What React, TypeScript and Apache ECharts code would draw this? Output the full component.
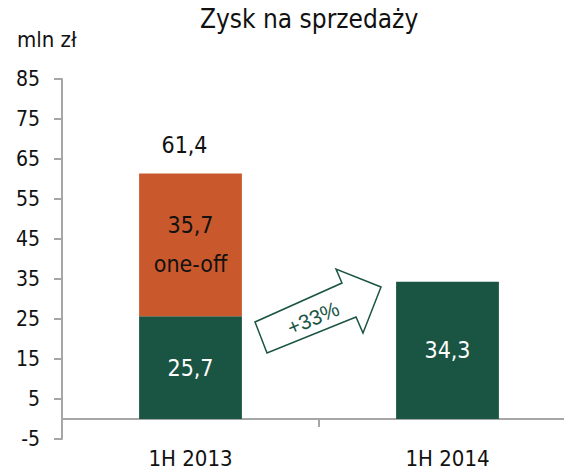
import React, { useEffect, useRef } from "react";
import * as echarts from "echarts";

const categories = ["1H 2013", "1H 2014"];
const baseValues = [25.7, 34.3];
const oneOffValues: (number | null)[] = [35.7, null];
const totalValues: (number | null)[] = [61.4, null];
const axisMin = -5;
const axisMax = 85;
const axisStep = 10;
const titleText = "Zysk na sprzedaży";
const unitText = "mln zł";
const growthText = "+33%";

const FONT = "'Liberation Sans Narrow', 'DejaVu Sans Condensed', 'Liberation Sans', sans-serif";
const GREEN = "#1a5443";
const ORANGE = "#c9592c";
const AXIS = "#a6a6a6";

const fmt = (v: number) => String(v).replace(".", ",");

export default function App() {
  const ref = useRef<HTMLDivElement>(null);
  useEffect(() => {
    document.body.style.margin = "0";
    const chart = echarts.init(ref.current!, null, { renderer: "svg" });
    chart.setOption({
      animation: false,
      title: [
        {
          text: titleText,
          left: 200,
          top: 6,
          padding: 0,
          textStyle: { fontFamily: FONT, fontSize: 26, fontWeight: "normal", color: "#111" },
        },
        {
          text: unitText,
          left: 17,
          top: 28,
          padding: 0,
          textStyle: { fontFamily: FONT, fontSize: 22, fontWeight: "normal", color: "#111" },
        },
      ],
      grid: {
        left: 62,
        right: -12,
        top: 79,
        bottom: 34,
        containLabel: false,
        outerBoundsMode: "none",
      },
      xAxis: {
        type: "category",
        data: categories,
        axisLine: { onZero: true, onZeroAxisIndex: 0, lineStyle: { color: AXIS, width: 2 } },
        axisTick: { show: true, length: 8, lineStyle: { color: AXIS, width: 2 } },
        axisLabel: { fontFamily: FONT, fontSize: 22, color: "#111", margin: 8 },
      },
      yAxis: [
        {
          type: "value",
          min: axisMin,
          max: axisMax,
          show: false,
          splitLine: { show: false },
        },
        {
          type: "value",
          position: "left",
          min: 0,
          max: axisMax - axisMin,
          interval: axisStep,
          splitLine: { show: false },
          axisLine: { show: true, onZero: false, lineStyle: { color: AXIS, width: 2 } },
          axisTick: { show: true, length: 8, lineStyle: { color: AXIS, width: 2 } },
          axisLabel: {
            fontFamily: FONT,
            fontSize: 21,
            color: "#111",
            margin: 22,
            formatter: (v: number) => String(v + axisMin),
          },
        },
      ],
      series: [
        {
          type: "bar",
          stack: "a",
          yAxisIndex: 0,
          barWidth: "40%",
          data: baseValues,
          itemStyle: { color: GREEN },
          label: {
            show: true,
            position: "inside",
            fontFamily: FONT,
            fontSize: 23,
            color: "#fff",
            formatter: (p: any) => fmt(p.value),
          },
        },
        {
          type: "bar",
          stack: "a",
          yAxisIndex: 0,
          barWidth: "40%",
          data: oneOffValues,
          itemStyle: { color: ORANGE },
          label: {
            show: true,
            position: "inside",
            fontFamily: FONT,
            fontSize: 23,
            lineHeight: 39,
            color: "#111",
            formatter: (p: any) => fmt(p.value) + "\none-off",
          },
        },
        {
          type: "bar",
          yAxisIndex: 0,
          barWidth: "40%",
          barGap: "-100%",
          data: totalValues,
          itemStyle: { color: "rgba(0,0,0,0)" },
          label: {
            show: true,
            position: "top",
            distance: 17,
            offset: [-6, 0],
            fontFamily: FONT,
            fontSize: 23,
            color: "#111",
            formatter: (p: any) => fmt(p.value),
          },
          silent: true,
        },
      ],
      graphic: [
        {
          type: "polygon",
          shape: {
            points: [
              [267, 353],
              [255, 322],
              [342, 283],
              [336, 269],
              [381, 287],
              [363, 333],
              [356, 317],
            ],
          },
          style: { fill: "#fff", stroke: GREEN, lineWidth: 1.5 },
        },
        {
          type: "text",
          x: 313,
          y: 318,
          rotation: 0.4,
          style: {
            text: growthText,
            fill: GREEN,
            font: "21px 'Liberation Sans', sans-serif",
            align: "center",
            verticalAlign: "middle",
          },
        },
      ],
    });
    return () => chart.dispose();
  }, []);
  return <div ref={ref} style={{ width: 564, height: 473 }} />;
}
